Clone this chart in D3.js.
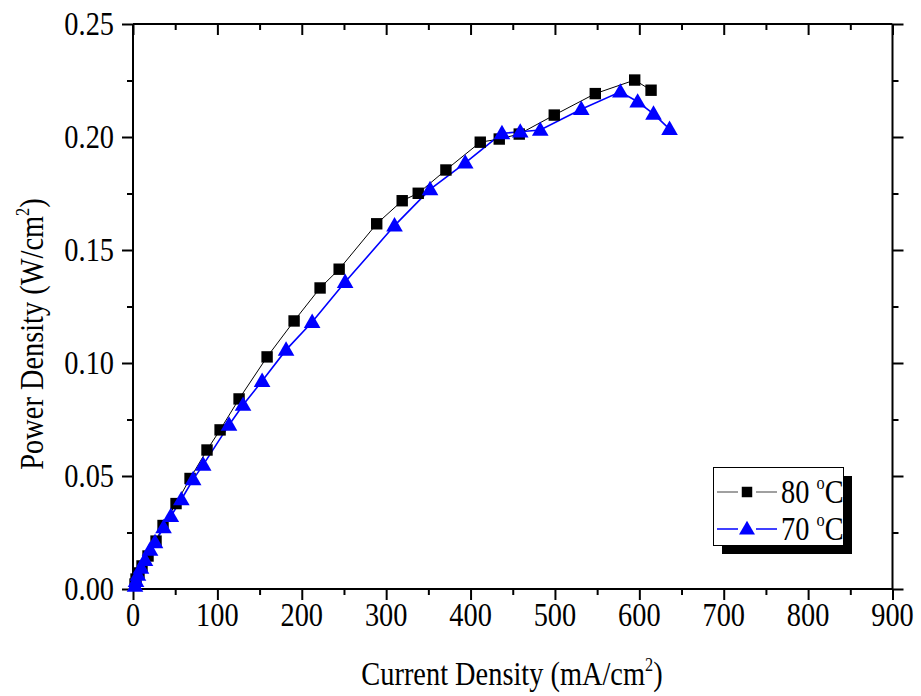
<!DOCTYPE html>
<html><head><meta charset="utf-8">
<script src="https://cdn.jsdelivr.net/npm/d3@7"></script>
<style>body{margin:0;background:#fff}svg{display:block}text{font-family:"Liberation Serif","Times New Roman",serif;fill:#000}</style>
</head><body>
<script>
const xTicks = [0,100,200,300,400,500,600,700,800,900];
const yTicks = [0.00,0.05,0.10,0.15,0.20,0.25];
const series80x = [2.4,3.6,7.1,10.7,17.8,27.3,35.6,51,67.6,87.7,103.2,125.7,158.9,190.9,221.7,244.3,288.8,319,338,370.8,411.5,434,457.7,499.2,547.8,594.5,613.9];
const series80y = [0.0022,0.0044,0.0071,0.0102,0.0146,0.0212,0.0281,0.0378,0.0489,0.0615,0.0704,0.0841,0.1027,0.1186,0.1332,0.1415,0.1616,0.1718,0.1751,0.1854,0.1977,0.1991,0.2013,0.2097,0.2192,0.2252,0.2207];
const series70x = [2.4,3.6,5.9,9.5,14.2,20.2,26.1,36.2,44.8,57.3,71.3,83.2,113.8,130.4,153,181.4,212.3,251.4,309.9,352,393.7,437.2,458.9,482.6,531.2,577.5,598,616.8,635.8];
const series70y = [0.0013,0.0035,0.0062,0.0093,0.0128,0.0173,0.0206,0.0272,0.0322,0.0396,0.0485,0.0549,0.0726,0.0814,0.0920,0.1058,0.1181,0.1358,0.1608,0.1768,0.1886,0.2016,0.2023,0.2031,0.2123,0.2200,0.2156,0.2102,0.2035];
const legendLabels = ["80 ","70 "];

const W=921,H=696, FS=33, SX=0.86;
const svg=d3.select("body").append("svg").attr("width",W).attr("height",H);
const x=d3.scaleLinear().domain([0,900]).range([133,892.5]);
const y=d3.scaleLinear().domain([0,0.25]).range([589,24]);
const fmt=d3.format(".2f");
const xMinor=d3.range(50,900,100), yMinor=d3.range(0.025,0.25,0.05);

function tickStyle(a){a.select(".domain").remove();a.selectAll("line").attr("stroke","#000").attr("stroke-width",2);}
// frame
[[x(0),x(900),y(0),y(0)],[x(0),x(900),y(0.25),y(0.25)],[x(0),x(0),y(0),y(0.25)],[x(900),x(900),y(0),y(0.25)]]
  .forEach(l=>svg.append("line").attr("x1",l[0]).attr("x2",l[1]).attr("y1",l[2]).attr("y2",l[3]).attr("stroke","#000").attr("stroke-width",2));

// bottom (outward)
svg.append("g").attr("transform",`translate(0,${y(0)})`).call(d3.axisBottom(x).tickValues(xTicks).tickSize(11).tickFormat("")).call(tickStyle);
svg.append("g").attr("transform",`translate(0,${y(0)})`).call(d3.axisBottom(x).tickValues(xMinor).tickSize(6).tickFormat("")).call(tickStyle);
// top (inward)
svg.append("g").attr("transform",`translate(0,${y(0.25)})`).call(d3.axisBottom(x).tickValues(xTicks).tickSize(11).tickFormat("")).call(tickStyle);
svg.append("g").attr("transform",`translate(0,${y(0.25)})`).call(d3.axisBottom(x).tickValues(xMinor).tickSize(6).tickFormat("")).call(tickStyle);
// left (outward)
svg.append("g").attr("transform",`translate(${x(0)},0)`).call(d3.axisLeft(y).tickValues(yTicks).tickSize(11).tickFormat("")).call(tickStyle);
svg.append("g").attr("transform",`translate(${x(0)},0)`).call(d3.axisLeft(y).tickValues(yMinor).tickSize(6).tickFormat("")).call(tickStyle);
// right (outward)
svg.append("g").attr("transform",`translate(${x(900)},0)`).call(d3.axisRight(y).tickValues(yTicks).tickSize(11).tickFormat("")).call(tickStyle);
svg.append("g").attr("transform",`translate(${x(900)},0)`).call(d3.axisRight(y).tickValues(yMinor).tickSize(6).tickFormat("")).call(tickStyle);

// tick labels
svg.append("g").selectAll("text").data(xTicks).join("text")
  .attr("transform",d=>`translate(${x(d)},${y(0)+37}) scale(${SX},1)`).attr("text-anchor","middle").attr("font-size",FS).text(d3.format("d"));
svg.append("g").selectAll("text").data(yTicks).join("text")
  .attr("transform",d=>`translate(114,${y(d)+11}) scale(${SX},1)`).attr("text-anchor","end").attr("font-size",FS).text(fmt);

// data
const d80=series80x.map((v,i)=>[v,series80y[i]]);
const d70=series70x.map((v,i)=>[v,series70y[i]]);
const line=d3.line().x(d=>x(d[0])).y(d=>y(d[1]));
svg.append("path").attr("d",line(d80)).attr("fill","none").attr("stroke","#000").attr("stroke-width",1);
svg.append("path").attr("d",line(d70)).attr("fill","none").attr("stroke","#0000ff").attr("stroke-width",1.6);
const sq=d3.symbol().type(d3.symbolSquare).size(130);
const tri=d3.symbol().type(d3.symbolTriangle).size(120);
svg.append("g").selectAll("path").data(d80).join("path").attr("d",sq)
  .attr("transform",d=>`translate(${x(d[0])},${y(d[1])})`).attr("fill","#000");
svg.append("g").selectAll("path").data(d70).join("path").attr("d",tri)
  .attr("transform",d=>`translate(${x(d[0])},${y(d[1])+1})`).attr("fill","#0000ff");

// axis titles
svg.append("text").attr("transform",`translate(512,685) scale(${SX},1)`).attr("text-anchor","middle").attr("font-size",FS)
  .html('Current Density (mA/cm<tspan dy="-14" font-size="19">2</tspan><tspan dy="14">)</tspan>');
svg.append("text").attr("transform",`translate(43,334) rotate(-90) scale(${SX},1)`).attr("text-anchor","middle").attr("font-size",FS)
  .html('Power Density (W/cm<tspan dy="-14" font-size="19">2</tspan><tspan dy="14">)</tspan>');

// legend
const lg=svg.append("g");
lg.append("rect").attr("x",722).attr("y",476).attr("width",130).attr("height",78).attr("fill","#000");
lg.append("rect").attr("x",713.5).attr("y",467.5).attr("width",130).attr("height",78).attr("fill","#fff").attr("stroke","#000").attr("stroke-width",1);
const rows=[{y:492,c:"#808080",m:"#000"},{y:529,c:"#0000ff",m:"#0000ff"}];
rows.forEach((r,i)=>{
  lg.append("line").attr("x1",717).attr("x2",777).attr("y1",r.y).attr("y2",r.y).attr("stroke",r.c).attr("stroke-width",1.3);
  lg.append("rect").attr("x",738).attr("y",r.y-7).attr("width",18).attr("height",14).attr("fill","#fff");
  lg.append("path").attr("d",i===0?d3.symbol().type(d3.symbolSquare).size(110)():d3.symbol().type(d3.symbolTriangle).size(110)())
    .attr("transform",`translate(747,${r.y+(i?1:0)})`).attr("fill",r.m);
  lg.append("text").attr("transform",`translate(781,${r.y+11}) scale(${SX},1)`).attr("font-size",FS)
    .html(legendLabels[i]+'<tspan dy="-14" font-size="19">o</tspan><tspan dy="14">C</tspan>');
});
</script>
</body></html>
